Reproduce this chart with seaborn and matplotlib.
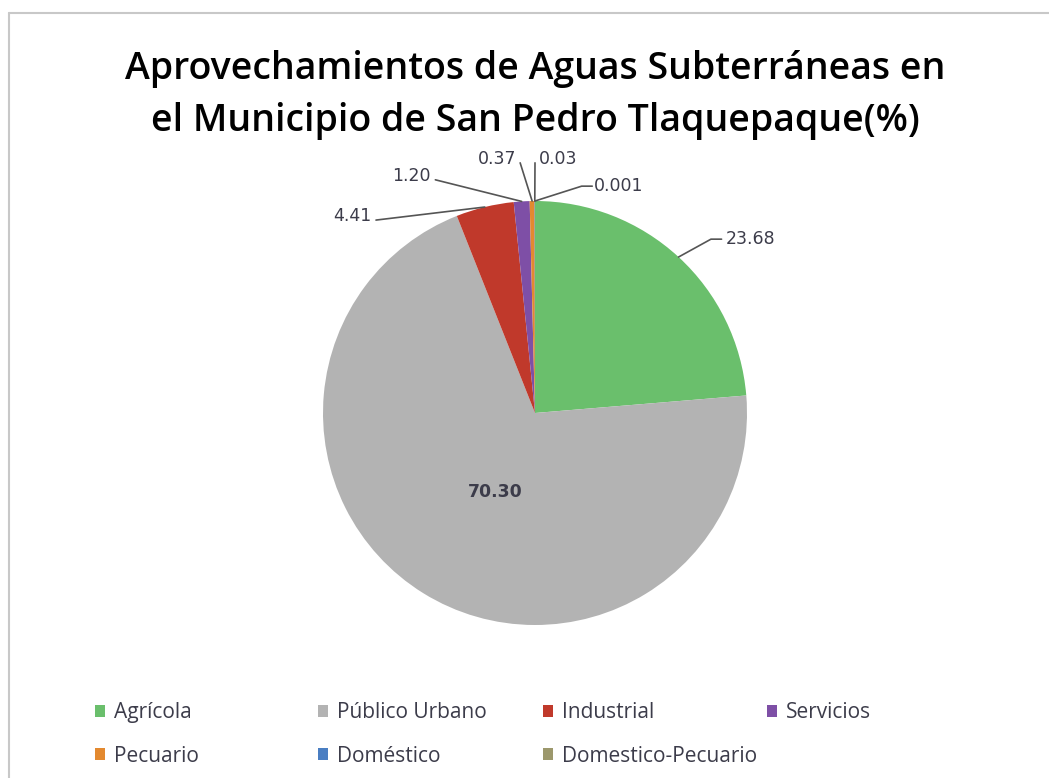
import matplotlib
matplotlib.use("Agg")
import matplotlib.pyplot as plt
from matplotlib.lines import Line2D
from matplotlib.patches import Patch
import seaborn as sns
import numpy as np

sns.set_theme(style="white")
plt.rcParams['font.family'] = ['Open Sans', 'DejaVu Sans']

categories = ["Agrícola", "Público Urbano", "Industrial", "Servicios",
              "Pecuario", "Doméstico", "Domestico-Pecuario"]
values = [23.68, 70.30, 4.41, 1.20, 0.37, 0.03, 0.001]
value_labels = ["23.68", "70.30", "4.41", "1.20", "0.37", "0.03", "0.001"]
colors = ["#6abf6c", "#b3b3b3", "#c0392b", "#7e4fa6", "#e3892f", "#4a7ec2", "#9c986c"]

W, H = 1049, 778
fig = plt.figure(figsize=(W / 100, H / 100), dpi=100)
fig.patch.set_facecolor("white")

# pie axes (center 535,413 ; radius 212 px)
cx, cy, R = 535, 413, 212
ax = fig.add_axes([(cx - R) / W, (H - cy - R) / H, 2 * R / W, 2 * R / H])
wedges, _ = ax.pie(values, colors=colors, startangle=90, counterclock=False,
                   radius=1.0, wedgeprops=dict(linewidth=0))
ax.set_xlim(-1, 1)
ax.set_ylim(-1, 1)
ax.set_aspect("equal")
ax.axis("off")

# label layout (text anchor in axes-data units, alignment, elbow)
layout = [
    dict(xy=(0.90, 0.82), ha="left", elbow=(0.88, 0.82)),
    None,
    dict(xy=(-0.77, 0.93), ha="right", elbow=None),
    dict(xy=(-0.49, 1.12), ha="right", elbow=None),
    dict(xy=(-0.09, 1.20), ha="right", elbow=None),
    dict(xy=(0.02, 1.20), ha="left", elbow=None),
    dict(xy=(0.28, 1.07), ha="left", elbow=(0.27, 1.07)),
]
txtcol = "#3c3c4a"
lblfont = ["DejaVu Sans"]
for w, lab, lay in zip(wedges, value_labels, layout):
    mid = np.deg2rad((w.theta1 + w.theta2) / 2)
    ex, ey = np.cos(mid), np.sin(mid)
    if lay is None:
        ax.text(-0.189, -0.373, lab, ha="center", va="center", fontsize=12.5,
                fontweight="bold", color=txtcol, family=lblfont)
        continue
    tx, ty = lay["xy"]
    pts_x = [ex]
    pts_y = [ey]
    if lay["elbow"] is not None:
        pts_x.append(lay["elbow"][0] - 0.05)
        pts_y.append(lay["elbow"][1])
        pts_x.append(lay["elbow"][0])
        pts_y.append(lay["elbow"][1])
    else:
        pts_x.append(tx + (0.02 if lay["ha"] == "right" else -0.02))
        pts_y.append(ty - 0.02)
    ax.plot(pts_x, pts_y, color="#555555", lw=1.2, clip_on=False)
    ax.text(tx, ty, lab, ha=lay["ha"], va="center", fontsize=12.5,
            color=txtcol, clip_on=False, family=lblfont)

fig.text(535 / W, 1 - 95 / H,
         "Aprovechamientos de Aguas Subterráneas en\nel Municipio de San Pedro Tlaquepaque(%)",
         ha="center", va="center", fontsize=27, fontweight="semibold",
         color="black", linespacing=1.5)

# legend: row-wise order over 4 columns
col_x = [95, 318, 543, 767]
cols = [[0, 4], [1, 5], [2, 6], [3]]
for cx_, idx in zip(col_x, cols):
    handles = [Patch(facecolor=colors[i], edgecolor="none", label=categories[i]) for i in idx]
    fig.legend(handles=handles, loc="upper left",
               bbox_to_anchor=(cx_ / W, 1 - 702 / H),
               frameon=False, fontsize=15, handlelength=0.48, handleheight=0.52,
               handletextpad=0.45, labelspacing=1.08, labelcolor=txtcol,
               borderaxespad=0, borderpad=0)

# border
fig.add_artist(Line2D([9 / W, 9 / W], [0, 1 - 13 / H], transform=fig.transFigure,
                      color="#c8c8c8", lw=1.5))
fig.add_artist(Line2D([9 / W, 1], [1 - 13 / H, 1 - 13 / H], transform=fig.transFigure,
                      color="#c8c8c8", lw=1.5))

fig.savefig("out.png", dpi=100, facecolor="white")
